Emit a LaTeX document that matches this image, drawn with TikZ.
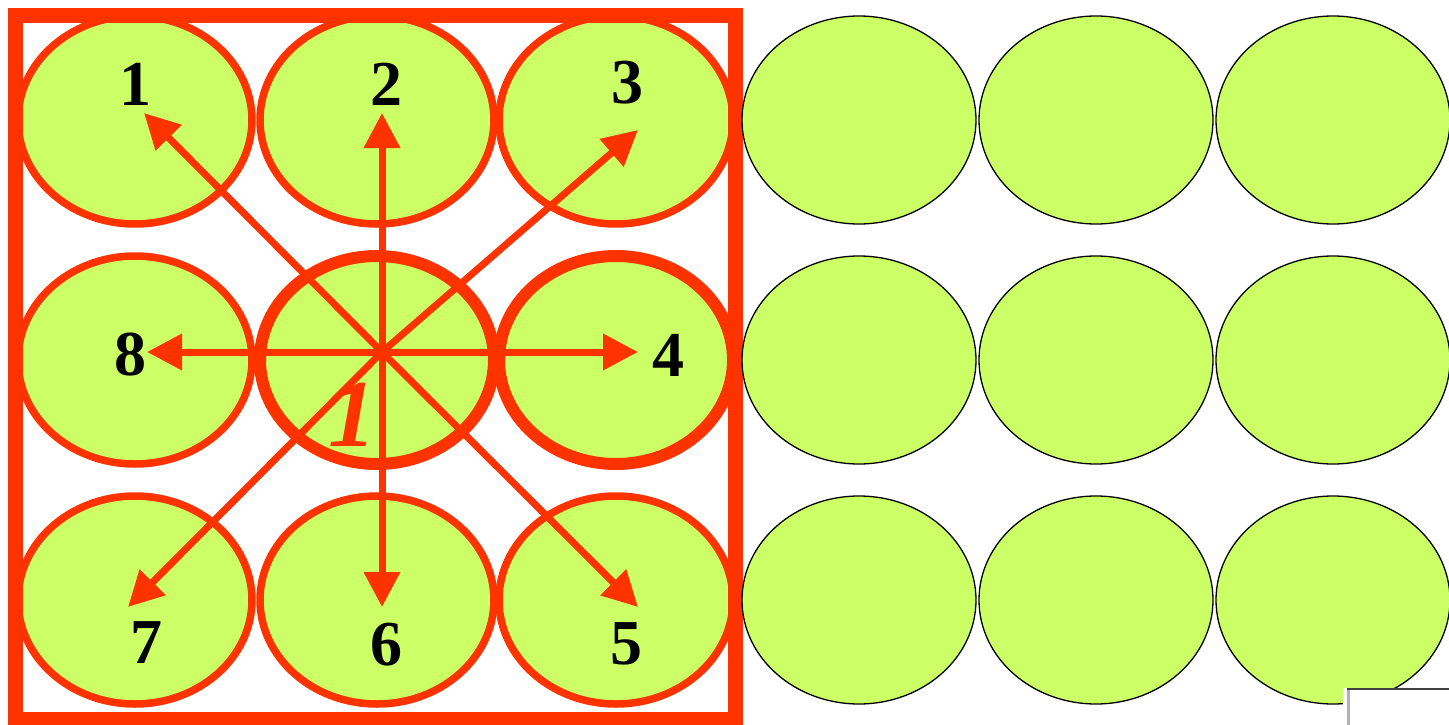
\documentclass[tikz,border=0pt]{standalone}
\usepackage{fontspec}
\setmainfont{Liberation Serif}
\usetikzlibrary{arrows.meta,shapes.geometric}
\definecolor{lime}{HTML}{CCFF66}
\definecolor{orred}{HTML}{FF3300}
\begin{document}
\begin{tikzpicture}[x=1pt,y=-1pt,
  cell/.style={ellipse, minimum width=234pt, minimum height=208pt, inner sep=0pt, fill=lime},
  redell/.style={cell, draw=orred, line width=7.5pt},
  thickell/.style={cell, draw=orred, line width=12pt},
  blkell/.style={cell, draw=black, line width=1.3pt},
  arr/.style={draw=orred, line width=7pt, -{Triangle[length=35pt,width=35pt]}},
  num/.style={font=\fontsize{64}{64}\selectfont\bfseries, inner sep=0pt}]
\useasboundingbox (0,0) rectangle (1449,725);
% red group
\node[redell] (e1) at (135,120) {};
\node[redell] (e2) at (377,120) {};
\node[redell] (e3) at (616,120) {};
\node[redell] (e8) at (135,360) {};
\node[thickell] (e0) at (377,360) {};
\node[thickell] (e4) at (616,360) {};
\node[redell] (e7) at (135,600) {};
\node[redell] (e6) at (377,600) {};
\node[redell] (e5) at (616,600) {};
% frame
\draw[orred, line width=15pt] (15,16) rectangle (735.5,719.5);
% black group
\node[blkell] (b1) at (859,120) {};
\node[blkell] (b2) at (1096,120) {};
\node[blkell] (b3) at (1333,120) {};
\node[blkell] (b4) at (859,360) {};
\node[blkell] (b5) at (1096,360) {};
\node[blkell] (b6) at (1333,360) {};
\node[blkell] (b7) at (859,600) {};
\node[blkell] (b8) at (1096,600) {};
\node[blkell] (b9) at (1333,600) {};
% arrows
\coordinate (c) at (382,352);
\coordinate (t1) at (144,113);
\coordinate (t2) at (382,113);
\coordinate (t3) at (638,130);
\coordinate (t4) at (638,352);
\coordinate (t5) at (638,607);
\coordinate (t6) at (382,607);
\coordinate (t7) at (128,607);
\coordinate (t8) at (147,352);
\foreach \t in {t1,t2,t3,t4,t5,t6,t7,t8} \draw[arr] (c) -- (\t);
% labels
\node[num] (l1) at (135,84) {1};
\node[num] (l2) at (386,84) {2};
\node[num] (l3) at (627,83) {3};
\node[num] (l4) at (668,355) {4};
\node[num] (l8) at (130,355) {8};
\node[num] (l7) at (146,643) {7};
\node[num] (l6) at (386,645) {6};
\node[num] (l5) at (626,644) {5};
\node[font=\fontsize{96}{96}\selectfont\bfseries\itshape, text=orred, inner sep=0pt] (lc) at (352,415) {1};
% corner box
\fill[white] (1343,688) rectangle (1449,725);
\draw[gray!60, line width=2.3pt] (1348.5,690) -- (1348.5,725);
\draw[black!75, line width=1.3pt] (1347,689) -- (1449,689);
\end{tikzpicture}
\end{document}
